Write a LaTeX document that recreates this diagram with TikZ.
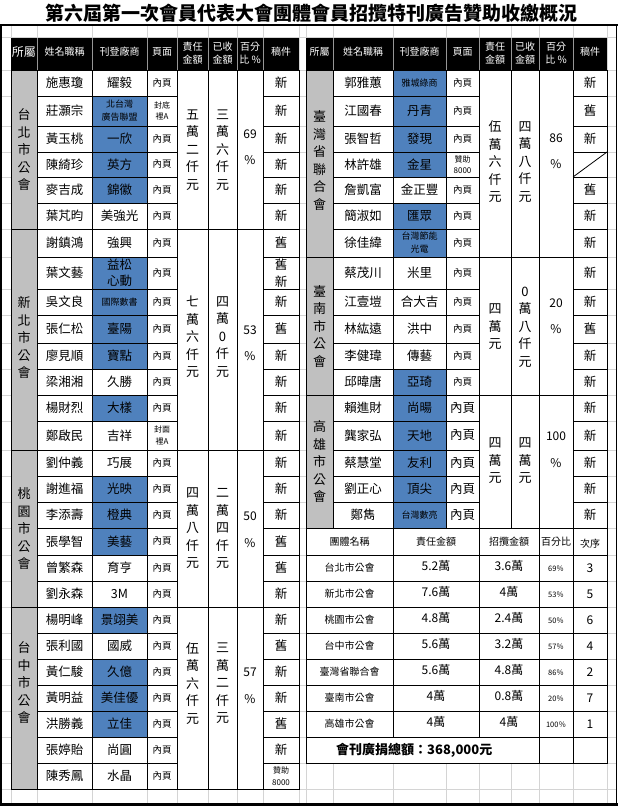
\documentclass[tikz,border=0pt]{standalone}
\usepackage{fontspec}
\setmainfont{Noto Sans CJK TC}
\definecolor{gridgray}{RGB}{212,212,212}
\definecolor{secgray}{RGB}{192,192,192}
\definecolor{cellblue}{RGB}{79,129,189}
\definecolor{hdsep}{RGB}{150,150,150}
\newcommand\fs[2]{\fontsize{#1}{#2}\selectfont}
\newcounter{nd}
\newcommand\T[3]{\stepcounter{nd}\node[#1] (n\arabic{nd}) at (#2) {#3};}
\tikzset{
  gridln/.style={draw=gridgray, line width=0.9pt},
  tl/.style={draw=black, line width=1pt},
  base/.style={align=center, inner sep=0pt},
  nm/.style={base, font=\fs{12.5}{16.5}},
  vw/.style={nm, fill=white},
  vb/.style={nm, fill=cellblue},
  vbs/.style={base, font=\fs{9}{13}, fill=cellblue},
  pg/.style={base, font=\fs{9.5}{12}},
  pgs/.style={base, font=\fs{8}{11.5}},
  pgl/.style={nm},
  dr/.style={nm},
  drs/.style={pgs},
  vt/.style={base, font=\fs{13}{17.5}},
  pc/.style={base, font=\fs{12}{14}},
  hd/.style={base, font=\fs{10}{13.3}, text=white},
  hdl/.style={hd, font=\fs{12}{14}},
  sn/.style={base, font=\fs{10}{12}},
  sv/.style={base, font=\fs{12}{14}},
  sp/.style={base, font=\fs{7.5}{9}},
  ttl/.style={base, font=\fs{19}{22}\bfseries},
  tot/.style={base, anchor=west, font=\fs{13}{15}\bfseries},
}
% column positions (set per table)
\def\setcolsL{\def\colZ{11}\def\colA{37}\def\colB{92}\def\colC{147}\def\colD{177}\def\colE{208}\def\colF{237}\def\colG{263}\def\colH{299}}
\def\setcolsR{\def\colZ{306}\def\colA{333}\def\colB{393}\def\colC{446}\def\colD{479}\def\colE{511}\def\colF{539}\def\colG{573}\def\colH{607}}
% one row: y1 y2 name vendorstyle vendor pagestyle page draftstyle draft
\newcommand\Row[9]{%
  \fill[#4] (\colB,#1) rectangle (\colC,#2);
  \draw[tl] (\colA,#1) rectangle (\colB,#2);
  \draw[tl] (\colB,#1) rectangle (\colC,#2);
  \draw[tl] (\colC,#1) rectangle (\colD,#2);
  \draw[tl] (\colG,#1) rectangle (\colH,#2);
  \T{nm}{{(\colA+\colB)/2},{(#1+#2)/2}}{#3}
  \T{#4}{{(\colB+\colC)/2},{(#1+#2)/2}}{#5}
  \T{#6}{{(\colC+\colD)/2},{(#1+#2)/2}}{#7}
  \T{#8}{{(\colG+\colH)/2},{(#1+#2)/2}}{#9}
}
% one section: y1 y2 label labely duty recv valy pct pcty
\newcommand\Sec[9]{%
  \fill[secgray] (\colZ,#1) rectangle (\colA,#2);
  \draw[tl] (\colZ,#1) rectangle (\colA,#2);
  \draw[tl] (\colD,#1) rectangle (\colE,#2);
  \draw[tl] (\colE,#1) rectangle (\colF,#2);
  \draw[tl] (\colF,#1) rectangle (\colG,#2);
  \T{vt}{{(\colZ+\colA)/2},#4}{#3}
  \T{vt}{{(\colD+\colE)/2},#7}{#5}
  \T{vt}{{(\colE+\colF)/2},#7}{#6}
  \T{pc}{{(\colF+\colG)/2},#9}{#8}
  \T{pc}{{(\colF+\colG)/2},{#9+26.5}}{\%}
}
% header row
\newcommand\Hdr[1]{%
  \fill[black] (\colZ,38) rectangle (\colH,70);
  \foreach \x in {\colA,\colB,\colC,\colD,\colE,\colF,\colG} \draw[hdsep, line width=0.8pt] (\x,38) -- (\x,70);
  \T{#1}{{(\colZ+\colA)/2},52}{所屬}
  \T{hd}{{(\colA+\colB)/2},52}{姓名職稱}
  \T{hd}{{(\colB+\colC)/2},52}{刊登廠商}
  \T{hd}{{(\colC+\colD)/2},52}{頁面}
  \T{hd}{{(\colD+\colE)/2},53.3}{責任\\金額}
  \T{hd}{{(\colE+\colF)/2},53.3}{已收\\金額}
  \T{hd}{{(\colF+\colG)/2},53.3}{百分\\比 \%}
  \T{hd}{{(\colG+\colH)/2},52}{稿件}
}
% summary row
\newcommand\SRow[7]{%
  \foreach \xa/\xb in {306/393,393/479,479/539,539/573,573/607} \draw[tl] (\xa,#1) rectangle (\xb,#2);
  \T{sn}{349.5,{(#1+#2)/2}}{#3}
  \T{sv}{436,{(#1+#2)/2-2}}{#4}
  \T{sv}{509,{(#1+#2)/2-2}}{#5}
  \T{sp}{556,{(#1+#2)/2+1}}{#6}
  \T{sv}{590,{(#1+#2)/2}}{#7}
}
\begin{document}
\begin{tikzpicture}[x=1pt,y=-1pt]
\useasboundingbox (0,0) rectangle (620,808);
\fill[white] (0,0) rectangle (620,808);
% spreadsheet grid
\foreach \y in {37.5,70,96,126,152,177,203,229,257,289,315,343,369,395,421,450,476,502,528,555,581,607,633,659,685,711,737,763,789}
  \draw[gridln] (0,\y) -- (616,\y);
\foreach \x in {11,37,92,147,177,208,237,263,299,306,333,393,446,479,511,539,573,607}
  \draw[gridln] (\x,25) -- (\x,805);
\fill[white] (11,70) rectangle (299,789);
\fill[white] (306,70) rectangle (607,763);
% title
\T{ttl}{311,13}{第六屆第一次會員代表大會團體會員招攬特刊廣告贊助收繳概況}
% frame
\draw[line width=2pt] (0,25) -- (617.5,25);
\draw[line width=1.5pt] (0.75,25) -- (0.75,805.5);
\draw[line width=1.8pt] (616.5,25) -- (616.5,805.5);
\draw[line width=2.5pt] (0,804.7) -- (617.5,804.7);

% ===== left table =====
\setcolsL
\Hdr{hdl}
\Sec{70}{229}{台\\北\\市\\公\\會}{150}{五\\萬\\二\\仟\\元}{三\\萬\\六\\仟\\元}{150}{69}{134}
\Row{70}{96}{施惠瓊}{vw}{耀毅}{pg}{內頁}{dr}{新}
\Row{96}{126}{莊灝宗}{vbs}{北台灣\\廣告聯盟}{pgs}{封底\\裡A}{dr}{新}
\Row{126}{152}{黃玉桃}{vb}{一欣}{pg}{內頁}{dr}{新}
\Row{152}{177}{陳綺珍}{vb}{英方}{pg}{內頁}{dr}{新}
\Row{177}{203}{麥吉成}{vb}{錦徽}{pg}{內頁}{dr}{新}
\Row{203}{229}{葉芃昀}{vw}{美強光}{pg}{內頁}{dr}{新}

\Sec{229}{450}{新\\北\\市\\公\\會}{338}{七\\萬\\六\\仟\\元}{四\\萬\\0\\仟\\元}{337}{53}{330}
\Row{229}{257}{謝鎮鴻}{vw}{強興}{pg}{內頁}{dr}{舊}
\Row{257}{289}{葉文藝}{vb}{益松\\心動}{pg}{內頁}{dr}{舊\\新}
\Row{289}{315}{吳文良}{vbs}{國際數書}{pg}{內頁}{dr}{新}
\Row{315}{343}{張仁松}{vb}{臺陽}{pg}{內頁}{dr}{舊}
\Row{343}{369}{廖見順}{vb}{寶點}{pg}{內頁}{dr}{新}
\Row{369}{395}{梁湘湘}{vw}{久勝}{pg}{內頁}{dr}{新}
\Row{395}{421}{楊財烈}{vb}{大樣}{pg}{內頁}{dr}{新}
\Row{421}{450}{鄭啟民}{vw}{吉祥}{pgs}{封面\\裡A}{dr}{新}

\Sec{450}{607}{桃\\園\\市\\公\\會}{529}{四\\萬\\八\\仟\\元}{二\\萬\\四\\仟\\元}{528.5}{50}{516.7}
\Row{450}{476}{劉仲義}{vw}{巧展}{pg}{內頁}{dr}{新}
\Row{476}{502}{謝進福}{vb}{光映}{pg}{內頁}{dr}{新}
\Row{502}{528}{李添壽}{vb}{橙典}{pg}{內頁}{dr}{新}
\Row{528}{555}{張學智}{vb}{美藝}{pg}{內頁}{dr}{舊}
\Row{555}{581}{曾繁森}{vw}{育亨}{pg}{內頁}{dr}{舊}
\Row{581}{607}{劉永森}{vw}{3M}{pg}{內頁}{dr}{新}

\Sec{607}{789}{台\\中\\市\\公\\會}{683}{伍\\萬\\六\\仟\\元}{三\\萬\\二\\仟\\元}{683.5}{57}{672.7}
\Row{607}{633}{楊明峰}{vb}{景翊美}{pg}{內頁}{dr}{新}
\Row{633}{659}{張利國}{vw}{國威}{pg}{內頁}{dr}{舊}
\Row{659}{685}{黃仁駿}{vb}{久億}{pg}{內頁}{dr}{新}
\Row{685}{711}{黃明益}{vb}{美佳優}{pg}{內頁}{dr}{新}
\Row{711}{737}{洪勝義}{vb}{立佳}{pg}{內頁}{dr}{舊}
\Row{737}{763}{張婷貽}{vw}{尚圓}{pg}{內頁}{dr}{新}
\Row{763}{789}{陳秀鳳}{vw}{水晶}{pg}{內頁}{drs}{贊助\\8000}

% ===== right table =====
\setcolsR
\Hdr{hd}
\Sec{70}{257}{臺\\灣\\省\\聯\\合\\會}{160.5}{伍\\萬\\六\\仟\\元}{四\\萬\\八\\仟\\元}{162}{86}{138}
\Row{70}{96}{郭雅蕙}{vbs}{雅城綠商}{pg}{內頁}{dr}{新}
\Row{96}{126}{江國春}{vb}{丹青}{pg}{內頁}{dr}{舊}
\Row{126}{152}{張智哲}{vb}{發現}{pg}{內頁}{dr}{新}
\Row{152}{177}{林許雄}{vb}{金星}{pgs}{贊助\\8000}{dr}{}
\Row{177}{203}{詹凱富}{vw}{金正豐}{pg}{內頁}{dr}{舊}
\Row{203}{229}{簡淑如}{vb}{匯眾}{pg}{內頁}{dr}{新}
\Row{229}{257}{徐佳緯}{vbs}{台灣節能\\光電}{pg}{內頁}{dr}{新}
\coordinate (diagA) at (573,177);
\coordinate (diagB) at (607,152);
\draw[line width=0.8pt] (diagA) -- (diagB);

\Sec{257}{395}{臺\\南\\市\\公\\會}{326.5}{四\\萬\\元}{0\\萬\\八\\仟\\元}{327}{20}{303}
\Row{257}{289}{蔡茂川}{vw}{米里}{pg}{內頁}{dr}{新}
\Row{289}{315}{江壹塏}{vw}{合大吉}{pg}{內頁}{dr}{新}
\Row{315}{343}{林紘遠}{vw}{洪中}{pg}{內頁}{dr}{舊}
\Row{343}{369}{李健瑋}{vw}{傳藝}{pg}{內頁}{dr}{新}
\Row{369}{395}{邱暐唐}{vb}{亞琦}{pg}{內頁}{dr}{新}

\Sec{395}{528}{高\\雄\\市\\公\\會}{462}{四\\萬\\元}{四\\萬\\元}{461}{100}{436.7}
\Row{395}{421}{賴進財}{vb}{尚暘}{pgl}{內頁}{dr}{新}
\Row{421}{450}{龔家弘}{vb}{天地}{pgl}{內頁}{dr}{新}
\Row{450}{476}{蔡慧堂}{vb}{友利}{pgl}{內頁}{dr}{新}
\Row{476}{502}{劉正心}{vb}{頂尖}{pgl}{內頁}{dr}{新}
\Row{502}{528}{鄭雋}{vbs}{台灣數亮}{pgl}{內頁}{dr}{新}

% ===== summary table =====
\foreach \xa/\xb in {306/393,393/479,479/539,539/573,573/607} \draw[tl] (\xa,528) rectangle (\xb,555);
\T{sn}{349.5,542}{團體名稱}
\T{sn}{436,542}{責任金額}
\T{sn}{509,542}{招攬金額}
\T{sn}{556,542}{百分比}
\T{sn}{590,543.5}{次序}
\SRow{555}{581}{台北市公會}{5.2萬}{3.6萬}{69％}{3}
\SRow{581}{607}{新北市公會}{7.6萬}{4萬}{53％}{5}
\SRow{607}{633}{桃園市公會}{4.8萬}{2.4萬}{50％}{6}
\SRow{633}{659}{台中市公會}{5.6萬}{3.2萬}{57％}{4}
\SRow{659}{685}{臺灣省聯合會}{5.6萬}{4.8萬}{86％}{2}
\SRow{685}{711}{臺南市公會}{4萬}{0.8萬}{20％}{7}
\SRow{711}{737}{高雄市公會}{4萬}{4萬}{100％}{1}
\draw[tl] (306,737) rectangle (539,763);
\draw[tl] (539,737) rectangle (573,763);
\draw[tl] (573,737) rectangle (607,763);
\T{tot}{336,750}{會刊廣捐總額：368,000元}
\end{tikzpicture}
\end{document}
